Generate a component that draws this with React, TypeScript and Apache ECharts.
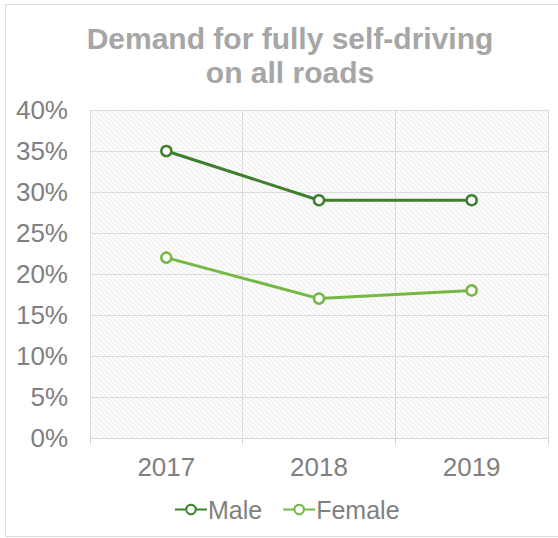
import React, { useEffect, useRef } from "react";
import * as echarts from "echarts";

const categories = ["2017", "2018", "2019"];
const maleValues = [35, 29, 29];
const femaleValues = [22, 17, 18];
const yTicks = { min: 0, max: 40, interval: 5 };

function makeHatch(): HTMLCanvasElement {
  const c = document.createElement("canvas");
  c.width = 5;
  c.height = 5;
  const ctx = c.getContext("2d")!;
  ctx.fillStyle = "#fbfbfb";
  ctx.fillRect(0, 0, 5, 5);
  ctx.strokeStyle = "#ebebeb";
  ctx.lineWidth = 1;
  ctx.beginPath();
  ctx.moveTo(-1, -1);
  ctx.lineTo(6, 6);
  ctx.moveTo(-4, 1);
  ctx.lineTo(3, 8);
  ctx.moveTo(1, -4);
  ctx.lineTo(8, 3);
  ctx.stroke();
  return c;
}

export default function App() {
  const ref = useRef<HTMLDivElement>(null);
  useEffect(() => {
    if (!ref.current) return;
    const chart = echarts.init(ref.current, undefined, { renderer: "svg" });
    const font = "Liberation Sans, Arial, sans-serif";
    chart.setOption({
      animation: false,
      backgroundColor: "#ffffff",
      textStyle: { fontFamily: font },
      graphic: [
        {
          type: "rect",
          shape: { x: 5.5, y: 4.5, width: 560, height: 532 },
          style: { fill: "none", stroke: "#d9d9d9", lineWidth: 1 },
          silent: true,
          z: -10,
        },
      ],
      title: {
        text: "Demand for fully self-driving\non all roads",
        left: 285,
        textAlign: "center",
        top: 16,
        textStyle: {
          fontFamily: font,
          fontSize: 30,
          fontWeight: "bold",
          color: "#a6a6a6",
          lineHeight: 34,
        },
      },
      grid: {
        left: 90,
        right: 10,
        top: 110,
        bottom: 100,
        show: true,
        borderWidth: 0,
        backgroundColor: { image: makeHatch(), repeat: "repeat" },
      },
      legend: {
        bottom: 11,
        left: 169,
        itemWidth: 32,
        itemHeight: 12,
        itemGap: 20,
        textStyle: { fontFamily: font, fontSize: 25, color: "#808080", padding: [0, 0, 0, -4] },
        data: ["Male", "Female"],
      },
      xAxis: {
        type: "category",
        data: categories,
        boundaryGap: true,
        axisLine: { lineStyle: { color: "#d9d9d9" } },
        axisTick: { show: true, length: 7, lineStyle: { color: "#d9d9d9" } },
        splitLine: { show: true, lineStyle: { color: "#dcdcdc" } },
        axisLabel: { fontSize: 26, color: "#808080", margin: 16, fontFamily: font },
      },
      yAxis: {
        type: "value",
        min: yTicks.min,
        max: yTicks.max,
        interval: yTicks.interval,
        axisLine: { show: false },
        axisTick: { show: false },
        splitLine: { show: true, lineStyle: { color: "#dcdcdc" } },
        axisLabel: {
          fontSize: 26,
          color: "#808080",
          margin: 22,
          fontFamily: font,
          formatter: "{value}%",
        },
      },
      series: [
        {
          name: "Male",
          type: "line",
          data: maleValues,
          symbol: "circle",
          symbolSize: 10,
          color: "#3f7f2e",
          lineStyle: { width: 3, color: "#3f7f2e" },
          itemStyle: { color: "#ffffff", borderColor: "#3f7f2e", borderWidth: 2.5 },
        },
        {
          name: "Female",
          type: "line",
          data: femaleValues,
          symbol: "circle",
          symbolSize: 10,
          color: "#75b843",
          lineStyle: { width: 3, color: "#75b843" },
          itemStyle: { color: "#ffffff", borderColor: "#75b843", borderWidth: 2.5 },
        },
      ],
    });
    return () => chart.dispose();
  }, []);
  return (
    <div
      ref={ref}
      style={{ position: "fixed", left: 0, top: 0, width: 558, height: 538 }}
    />
  );
}
